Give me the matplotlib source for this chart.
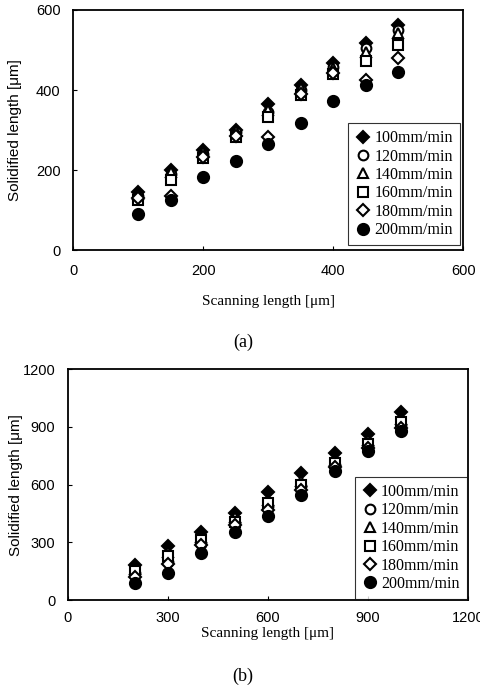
import numpy as np
import matplotlib
matplotlib.use('Agg')
from matplotlib import pyplot as plt

# speeds in the legend
speeds = ['100mm/min', '120mm/min', '140mm/min', '160mm/min', '180mm/min', '200mm/min']
markers = ['D', 'o', '^', 's', 'D', 'o']
filled = [True, False, False, False, False, True]
sizes = [6, 7, 7, 7, 6, 8]

# (a) scanning length and solidified length, one list per speed
scan_a = [100, 150, 200, 250, 300, 350, 400, 450, 500]
sol_a_100 = [145, 200, 250, 300, 365, 412, 467, 518, 562]
sol_a_120 = [135, 190, 240, 295, 345, 400, 458, 505, 550]
sol_a_140 = [140, 195, 245, 298, 350, 405, 455, 495, 542]
sol_a_160 = [125, 175, 230, 282, 333, 387, 440, 473, 512]
sol_a_180 = [130, 135, 232, 285, 282, 390, 442, 425, 480]
sol_a_200 = [90, 125, 183, 222, 265, 317, 372, 412, 445]

# (b)
scan_b = [200, 300, 400, 500, 600, 700, 800, 900, 1000]
sol_b_100 = [180, 280, 355, 450, 560, 660, 765, 865, 975]
sol_b_120 = [140, 200, 290, 400, 490, 590, 700, 800, 910]
sol_b_140 = [160, 250, 330, 430, 520, 620, 730, 830, 940]
sol_b_160 = [150, 230, 310, 405, 505, 600, 710, 810, 925]
sol_b_180 = [120, 185, 285, 390, 470, 570, 690, 790, 895]
sol_b_200 = [90, 140, 245, 355, 435, 545, 670, 775, 880]

serif = 'Liberation Serif'
sans = 'Liberation Sans'

fig = plt.figure(figsize=(4.81, 6.89), dpi=100)


def panel(rect, x, ys, xmax, ymax, step, caption, cap_y, leg_box, ylab_x,
          xpad, tpad):
    ax = fig.add_axes(rect)
    for y, lab, m, f, s in zip(ys, speeds, markers, filled, sizes):
        ax.plot(x, y, linestyle='none', marker=m, markersize=s,
                markerfacecolor='black' if f else 'white',
                markeredgecolor='black', markeredgewidth=1.5, label=lab)
    ax.set_xlim(0, xmax)
    ax.set_ylim(0, ymax)
    ax.set_xticks(np.arange(0, xmax + 1, step[0]))
    ax.set_yticks(np.arange(0, ymax + 1, step[1]))
    ax.tick_params(direction='in', length=3, width=0.8, labelsize=10.5, pad=9)
    ax.tick_params(axis='x', pad=tpad)
    for t in ax.get_xticklabels() + ax.get_yticklabels():
        t.set_fontfamily(sans)
    for sp in ax.spines.values():
        sp.set_linewidth(1.3)
    ax.set_xlabel('Scanning length [μm]', fontfamily=serif, fontsize=11,
                  labelpad=xpad)
    ax.set_ylabel('Solidified length [μm]', fontfamily=sans, fontsize=11,
                  va='center')
    ax.yaxis.set_label_coords(ylab_x, 0.5)
    leg = ax.legend(loc='lower right', bbox_to_anchor=leg_box, borderaxespad=0,
                    frameon=True, fancybox=False, edgecolor='black',
                    handlelength=1.0, handletextpad=0.2, borderpad=0.45,
                    labelspacing=0.15, prop={'family': serif, 'size': 11.5})
    leg.get_frame().set_linewidth(0.8)
    fig.text(0.505, cap_y, caption, ha='center', va='center',
             fontfamily=serif, fontsize=13)
    return ax


panel([0.152, 0.637, 0.811, 0.3485], scan_a,
      [sol_a_100, sol_a_120, sol_a_140, sol_a_160, sol_a_180, sol_a_200],
      600, 600, (200, 200), '(a)', 1 - 342 / 689, (0.992, 0.02), -0.148,
      12, 10)
panel([0.141, 0.129, 0.832, 0.3354], scan_b,
      [sol_b_100, sol_b_120, sol_b_140, sol_b_160, sol_b_180, sol_b_200],
      1200, 1200, (300, 300), '(b)', 1 - 676 / 689, (0.997, 0.004), -0.13,
      1, 8)

fig.savefig('out.png', dpi=100)
